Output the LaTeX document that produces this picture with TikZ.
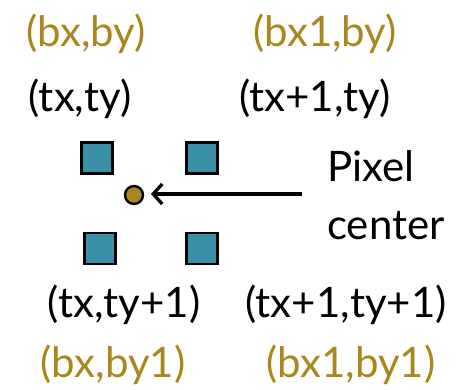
\documentclass[tikz,border=0pt]{standalone}
\usepackage{fontspec}
\setmainfont{Lato}
\usetikzlibrary{arrows.meta}
\definecolor{goldc}{HTML}{A8871E}
\definecolor{tealc}{HTML}{3A90A6}
\tikzset{
  lbl/.style={font=\fontsize{42}{46}\selectfont, inner sep=0pt, anchor=base},
  blbl/.style={lbl, text=goldc},
  tlbl/.style={lbl, text=black},
  sq/.style={draw=black, line width=2.8pt, fill=tealc, minimum size=31pt, inner sep=0pt},
  dot/.style={circle, draw=black, line width=2.4pt, fill=goldc, minimum size=18pt, inner sep=0pt},
}
\begin{document}
\begin{tikzpicture}[x=1pt,y=-1pt]
\useasboundingbox (0,0) rectangle (467,390);
\node[blbl] (b00) at (86,47) {(bx,by)};
\node[blbl] (b10) at (325,47) {(bx1,by)};
\node[tlbl] (t00) at (80,112) {(tx,ty)};
\node[tlbl] (t10) at (315,112) {(tx+1,ty)};
\node[sq] (s00) at (97,158) {};
\node[sq] (s10) at (202,158) {};
\node[sq] (s01) at (100,248.5) {};
\node[sq] (s11) at (202,248.5) {};
\node[dot] (c) at (134,195) {};
\coordinate (ae) at (302,194);
\coordinate (at) at (151,194);
\node[tlbl, anchor=base west] (p1) at (327,182) {Pixel};
\node[tlbl, anchor=base west] (p2) at (327,240) {center};
\draw[line width=3.3pt, -{Straight Barb[length=9pt,width=20pt,line width=3.3pt]}] (ae) -- (at);
\node[tlbl] (t01) at (124,318) {(tx,ty+1)};
\node[tlbl] (t11) at (346,318) {(tx+1,ty+1)};
\node[blbl] (b01) at (113,378) {(bx,by1)};
\node[blbl] (b11) at (351,378) {(bx1,by1)};
\end{tikzpicture}
\end{document}
